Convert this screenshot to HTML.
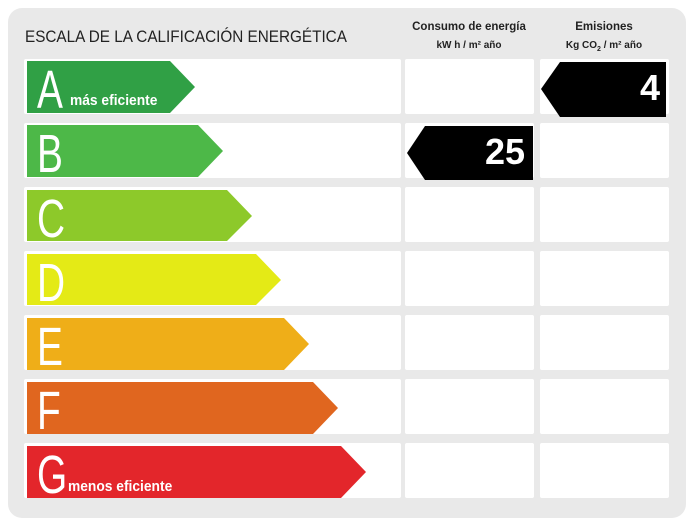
<!DOCTYPE html>
<html><head><meta charset="utf-8"><style>
html,body{margin:0;padding:0;background:#fff;}
svg{display:block;font-family:"Liberation Sans",sans-serif;}
</style></head><body>
<svg width="693" height="526" viewBox="0 0 693 526">
<rect x="8" y="8" width="678" height="510" rx="14" fill="#e9e9e9"/>
<text x="25" y="42" font-size="17" fill="#222" transform="translate(25 0) scale(0.9 1) translate(-25 0)">ESCALA DE LA CALIFICACIÓN ENERGÉTICA</text>
<g font-weight="bold" fill="#222" text-anchor="middle" font-size="11.5">
<text x="469" y="30">Consumo de energía</text>
<text x="469" y="48" font-size="10">kW h / m² año</text>
<text x="604" y="30">Emisiones</text>
<text x="604" y="48" font-size="10">Kg CO<tspan font-size="7" dy="3">2</tspan><tspan dy="-3"> / m² año</tspan></text>
</g>
<g fill="#fff">
<rect x="24" y="59" width="377" height="55" rx="2"/><rect x="405" y="59" width="129" height="55" rx="2"/><rect x="540" y="59" width="129" height="55" rx="2"/>
<rect x="24" y="123" width="377" height="55" rx="2"/><rect x="405" y="123" width="129" height="55" rx="2"/><rect x="540" y="123" width="129" height="55" rx="2"/>
<rect x="24" y="187" width="377" height="55" rx="2"/><rect x="405" y="187" width="129" height="55" rx="2"/><rect x="540" y="187" width="129" height="55" rx="2"/>
<rect x="24" y="251" width="377" height="55" rx="2"/><rect x="405" y="251" width="129" height="55" rx="2"/><rect x="540" y="251" width="129" height="55" rx="2"/>
<rect x="24" y="315" width="377" height="55" rx="2"/><rect x="405" y="315" width="129" height="55" rx="2"/><rect x="540" y="315" width="129" height="55" rx="2"/>
<rect x="24" y="379" width="377" height="55" rx="2"/><rect x="405" y="379" width="129" height="55" rx="2"/><rect x="540" y="379" width="129" height="55" rx="2"/>
<rect x="24" y="443" width="377" height="55" rx="2"/><rect x="405" y="443" width="129" height="55" rx="2"/><rect x="540" y="443" width="129" height="55" rx="2"/>
</g>
<polygon points="27,61 170,61 195,87 170,113 27,113" fill="#30a045"/>
<polygon points="27,125 198,125 223,151 198,177 27,177" fill="#4db848"/>
<polygon points="27,190 227,190 252,216 227,241 27,241" fill="#8dc92a"/>
<polygon points="27,254 256,254 281,280 256,305 27,305" fill="#e4ea16"/>
<polygon points="27,318 284,318 309,344 284,370 27,370" fill="#efae18"/>
<polygon points="27,382 313,382 338,408 313,434 27,434" fill="#e0661f"/>
<polygon points="27,446 341,446 366,472 341,498 27,498" fill="#e3262b"/>
<g fill="#fff" font-size="54">
<g transform="translate(37 0) scale(0.72 1)">
<text x="0" y="108">A</text><text x="0" y="172">B</text><text x="0" y="237">C</text><text x="0" y="301">D</text><text x="0" y="365">E</text><text x="0" y="429">F</text><text x="0" y="493">G</text>
</g>
<text x="70" y="105" font-size="15" font-weight="bold" transform="translate(70 0) scale(0.92 1) translate(-70 0)">más eficiente</text>
<text x="68" y="491" font-size="15" font-weight="bold" transform="translate(68 0) scale(0.92 1) translate(-68 0)">menos eficiente</text>
</g>
<polygon points="541,89 560,62 666,62 666,117 560,117" fill="#000"/>
<text x="660" y="100" fill="#fff" font-size="36" font-weight="bold" text-anchor="end">4</text>
<polygon points="407,153 425,126 533,126 533,180 425,180" fill="#000"/>
<text x="525" y="164" fill="#fff" font-size="36" font-weight="bold" text-anchor="end">25</text>
</svg>
</body></html>
